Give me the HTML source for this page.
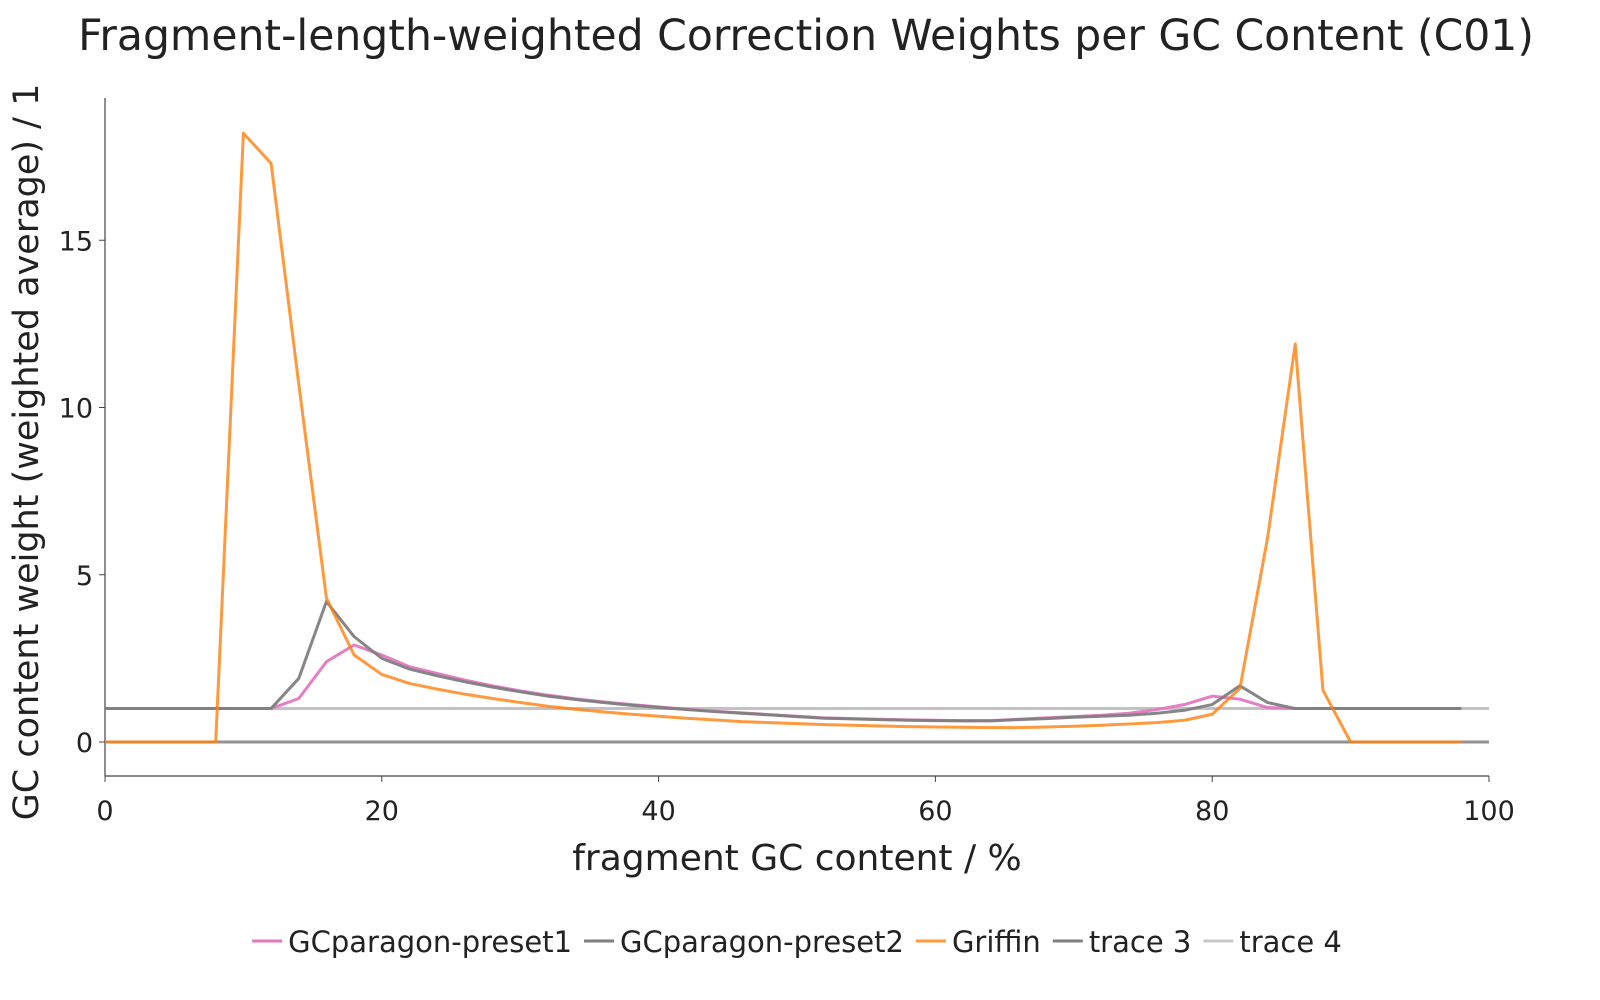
<!DOCTYPE html>
<html><head><meta charset="utf-8"><style>
html,body{margin:0;padding:0;background:#fff;}
svg{display:block;font-family:"DejaVu Sans","Liberation Sans",sans-serif;}
</style></head><body>
<svg id="chart" width="1600" height="1000" viewBox="0 0 1600 1000">
<text x="806" y="50" text-anchor="middle" font-size="42.5" fill="#222">Fragment-length-weighted Correction Weights per GC Content (C01)</text>
<g id="axes"></g>
<g id="series"></g>
<text x="797" y="870" text-anchor="middle" font-size="36" fill="#222">fragment GC content / %</text>
<text transform="translate(38,452) rotate(-90)" text-anchor="middle" font-size="35" fill="#222">GC content weight (weighted average) / 1</text>
<g id="legend"></g>
</svg>
<script>
const xs = [0,2,4,6,8,10,12,14,16,18,20,22,24,26,28,30,32,34,36,38,40,42,44,46,48,50,52,54,56,58,60,62,64,66,68,70,72,74,76,78,80,82,84,86,88,90,92,94,96,98];
const preset1 = [1,1,1,1,1,1,1,1.3,2.4,2.9,2.6,2.25,2.05,1.85,1.68,1.53,1.4,1.29,1.2,1.12,1.05,0.98,0.92,0.87,0.82,0.77,0.72,0.7,0.68,0.66,0.65,0.64,0.64,0.68,0.72,0.76,0.8,0.86,0.97,1.12,1.37,1.28,1.03,1,1,1,1,1,1,1];
const preset2 = [1,1,1,1,1,1,1,1.9,4.2,3.15,2.5,2.18,1.98,1.8,1.64,1.5,1.37,1.27,1.18,1.1,1.03,0.97,0.91,0.86,0.81,0.76,0.71,0.69,0.67,0.65,0.64,0.63,0.63,0.67,0.7,0.74,0.77,0.8,0.86,0.95,1.12,1.68,1.18,1,1,1,1,1,1,1];
const griffin = [0,0,0,0,0,18.2,17.3,10.7,4.3,2.6,2.02,1.75,1.58,1.43,1.3,1.18,1.07,0.98,0.9,0.83,0.77,0.71,0.66,0.61,0.58,0.55,0.52,0.5,0.48,0.46,0.45,0.44,0.43,0.43,0.45,0.47,0.5,0.54,0.58,0.65,0.83,1.6,6.1,11.9,1.55,0,0,0,0,0];
const trace3X = [0,100]; const trace3 = [0,0];
const trace4X = [0,100]; const trace4 = [1,1];
const xTicks = [0,20,40,60,80,100];
const yTicks = [0,5,10,15];
const legendLabels = ["GCparagon-preset1","GCparagon-preset2","Griffin","trace 3","trace 4"];

const NS="http://www.w3.org/2000/svg";
const X0=105,X1=1489,YB=742,YPU=33.45;
const sx=v=>X0+(X1-X0)*v/100;
const sy=v=>YB-v*YPU;
function mk(t,a,p){const e=document.createElementNS(NS,t);for(const k in a)e.setAttribute(k,a[k]);p.appendChild(e);return e;}
const axes=document.getElementById('axes');
let e=mk('line',{x1:X0,y1:98,x2:X0,y2:776,stroke:'#444','stroke-width':1.2},axes);


e=mk('line',{x1:X0,y1:776,x2:X1,y2:776,stroke:'#444','stroke-width':1.2},axes);


xTicks.forEach(t=>{
  mk('line',{x1:sx(t),y1:776,x2:sx(t),y2:782,stroke:'#444'},axes);
  const l=mk('text',{x:sx(t),y:820,'text-anchor':'middle','font-size':27,fill:'#222'},axes);
  l.textContent=t;
  
  
});
yTicks.forEach(t=>{
  mk('line',{x1:X0-6,y1:sy(t),x2:X0,y2:sy(t),stroke:'#444'},axes);
  const l=mk('text',{x:X0-12,y:sy(t)+10,'text-anchor':'end','font-size':27,fill:'#222'},axes);
  l.textContent=t;
  
  
});
const ser=document.getElementById('series');
function line(xa,ya,col,w,op,name){
  const p=mk('polyline',{points:xa.map((x,i)=>sx(x)+','+sy(ya[i])).join(' '),fill:'none',stroke:col,'stroke-width':w,'stroke-opacity':op,'stroke-linejoin':'round'},ser);
  
  
}
line(trace4X,trace4,'#bbbbbb',3,0.9,'trace-4-line');
line(trace3X,trace3,'#7f7f7f',3,0.85,'trace-3-line');
line(xs,preset1,'#e377c2',3,0.95,'gcparagon-preset1-line');
line(xs,preset2,'#7f7f7f',3,0.95,'gcparagon-preset2-line');
line(xs,griffin,'#ff7f0e',3,0.8,'griffin-line');
const leg=document.getElementById('legend');
const cols=['#e377c2','#7f7f7f','#ff9a3c','#7f7f7f','#c8c8c8'];
const groups=[];
legendLabels.forEach((lab,i)=>{
  const g=mk('g',{},leg);
  
  
  mk('line',{x1:0,y1:941,x2:30,y2:941,stroke:cols[i],'stroke-width':3},g);
  const t=mk('text',{x:36,y:952,'font-size':29,fill:'#222'},g);
  t.textContent=lab;
  groups.push([g,36+t.getComputedTextLength()]);
});
const gap=12;
let total=groups.reduce((s,a)=>s+a[1],0)+gap*(groups.length-1);
let cx=797-total/2;
groups.forEach(([g,w])=>{g.setAttribute('transform','translate('+cx+',0)');cx+=w+gap;});
</script>
</body></html>
